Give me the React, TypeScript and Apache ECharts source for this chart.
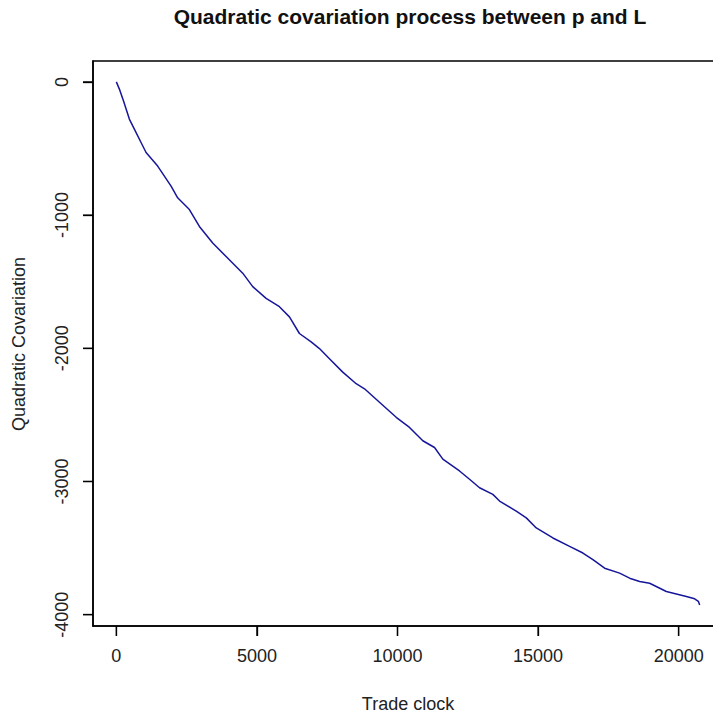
import React, { useEffect, useRef } from "react";
import * as echarts from "echarts";

const titleText = "Quadratic covariation process between p and L";
const xName = "Trade clock";
const yName = "Quadratic Covariation";

const xTicks = [0, 5000, 10000, 15000, 20000];
const yTicks = [0, -1000, -2000, -3000, -4000];

const tradeClock = [
  0, 120, 250, 463, 641, 879, 1057, 1470, 1947, 2181, 2598, 2954, 3427, 3904,
  4495, 4851, 5327, 5801, 6157, 6512, 6929, 7224, 7580, 8053, 8530, 8826,
  9359, 9954, 10427, 10900, 11317, 11612, 12206, 12562, 12918, 13391, 13630,
  14224, 14580, 14936, 15527, 16121, 16594, 16950, 17367, 17900, 18256,
  18612, 18968, 19562, 19918, 20274, 20569, 20700, 20747,
];
const quadCov = [
  0, -60, -140, -279, -355, -455, -530, -632, -783, -870, -958, -1085, -1210,
  -1311, -1436, -1537, -1625, -1688, -1764, -1889, -1952, -2002, -2078, -2179,
  -2266, -2304, -2405, -2518, -2594, -2694, -2745, -2832, -2921, -2983, -3047,
  -3097, -3147, -3223, -3273, -3349, -3424, -3487, -3537, -3587, -3651, -3688,
  -3726, -3751, -3764, -3826, -3844, -3864, -3881, -3900, -3927,
];

const FONT = "'Liberation Sans', Arial, sans-serif";

const GRID_LEFT = 93;
const GRID_TOP = 61;
const GRID_W = 630;
const GRID_H = 565;
const X_MIN = -830;
const X_MAX = 21577;
const Y_MIN = -4085;
const Y_MAX = 157;
const TICK_LEN = 10;

export default function App() {
  const ref = useRef<HTMLDivElement>(null);
  useEffect(() => {
    if (!ref.current) return;
    const chart = echarts.init(ref.current, null, { renderer: "svg" });
    const data = tradeClock.map((x, i) => [x, quadCov[i]]);
    const baseGraphics: any[] = [
      {
        type: "text",
        x: 410,
        y: 27,
        style: {
          text: titleText,
          font: `bold 21px ${FONT}`,
          fill: "#111",
          textAlign: "center",
          textVerticalAlign: "bottom",
        },
      },
      {
        type: "text",
        x: 408,
        y: 704,
        style: {
          text: xName,
          font: `18px ${FONT}`,
          fill: "#222",
          textAlign: "center",
          textVerticalAlign: "middle",
        },
      },
      {
        type: "text",
        x: 19,
        y: 344,
        rotation: Math.PI / 2,
        style: {
          text: yName,
          font: `18px ${FONT}`,
          fill: "#222",
          textAlign: "center",
          textVerticalAlign: "middle",
        },
      },
    ];
    chart.setOption({
      animation: false,
      backgroundColor: "#ffffff",
      textStyle: { fontFamily: FONT },
      grid: {
        left: GRID_LEFT,
        top: GRID_TOP,
        width: GRID_W,
        height: GRID_H,
        show: true,
        borderColor: "#000000",
        borderWidth: 1.5,
        backgroundColor: "transparent",
      },
      xAxis: {
        type: "value",
        min: X_MIN,
        max: X_MAX,
        axisLine: { show: true, onZero: false, lineStyle: { color: "#000", width: 1.5 } },
        splitLine: { show: false },
        axisTick: {
          show: true,
          inside: false,
          customValues: xTicks,
          length: TICK_LEN,
          lineStyle: { color: "#000", width: 1.3 },
        },
        axisLabel: {
          customValues: xTicks,
          fontSize: 18,
          color: "#222",
          margin: 21,
          fontFamily: FONT,
          formatter: (v: number) => String(v),
        },
      },
      yAxis: {
        type: "value",
        min: Y_MIN,
        max: Y_MAX,
        axisLine: { show: true, onZero: false, lineStyle: { color: "#000", width: 1.5 } },
        splitLine: { show: false },
        axisTick: {
          show: true,
          inside: false,
          customValues: yTicks,
          length: TICK_LEN,
          lineStyle: { color: "#000", width: 1.3 },
        },
        axisLabel: {
          customValues: yTicks,
          fontSize: 18,
          color: "#222",
          rotate: 90,
          margin: 22,
          fontFamily: FONT,
          formatter: (v: number) => String(v),
        },
      },
      graphic: baseGraphics,
      series: [
        {
          type: "line",
          data,
          clip: false,
          showSymbol: false,
          symbol: "none",
          lineStyle: { color: "#16169a", width: 1.5 },
        },
      ],
    });

    const tickGraphics: any[] = [];
    const bottom = GRID_TOP + GRID_H;
    try {
      xTicks.forEach((v) => {
        const p = chart.convertToPixel({ seriesIndex: 0 }, [v, Y_MIN]) as any;
        if (p && isFinite(p[0])) {
          tickGraphics.push({
            type: "rect",
            z: 100,
            shape: { x: p[0] - 0.65, y: bottom, width: 1.3, height: TICK_LEN },
            style: { fill: "#000" },
          });
        }
      });
      yTicks.forEach((v) => {
        const p = chart.convertToPixel({ seriesIndex: 0 }, [X_MIN, v]) as any;
        if (p && isFinite(p[1])) {
          tickGraphics.push({
            type: "rect",
            z: 100,
            shape: { x: GRID_LEFT - TICK_LEN, y: p[1] - 0.65, width: TICK_LEN, height: 1.3 },
            style: { fill: "#000" },
          });
        }
      });
    } catch (e) {
      // ignore
    }
    if (tickGraphics.length) {
      chart.setOption({ graphic: [...baseGraphics, ...tickGraphics] });
    }

    return () => chart.dispose();
  }, []);
  return (
    <div
      ref={ref}
      style={{
        position: "fixed",
        left: 0,
        top: 0,
        width: 745,
        height: 713,
      }}
    />
  );
}
